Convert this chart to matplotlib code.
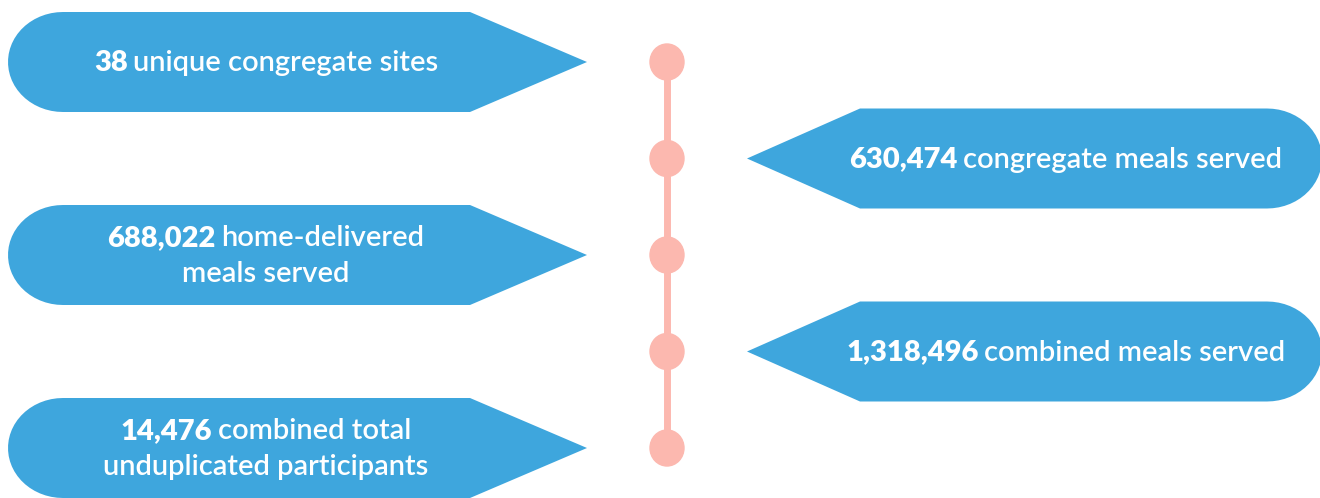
import matplotlib
matplotlib.use("Agg")
import matplotlib.pyplot as plt
from matplotlib.path import Path
from matplotlib.patches import PathPatch, Ellipse
from matplotlib.offsetbox import TextArea, HPacker, VPacker, AnnotationBbox
import numpy as np

# ---- data ----
numbers = ["38", "630,474", "688,022", "1,318,496", "14,476"]
line1_rest = ["unique congregate sites", "congregate meals served", "home-delivered",
              "combined meals served", "combined total"]
line2 = ["", "", "meals served", "", "unduplicated participants"]

BLUE = "#3EA6DD"
PINK = "#FCB8AF"
W, H = 1320, 498

fig = plt.figure(figsize=(W / 100, H / 100), dpi=100)
ax = fig.add_axes([0, 0, 1, 1])
ax.set_xlim(0, W)
ax.set_ylim(H, 0)
ax.axis("off")

y0, dy = 62, 96.5
half_h = 50
rx = 55
line_x = 667


def ellipse_arc(cx, cy, a, b, t0, t1, n=30):
    t = np.linspace(t0, t1, n)
    return list(zip(cx + a * np.cos(t), cy + b * np.sin(t)))


def left_shape(yc):
    top, bot = yc - half_h, yc + half_h
    x_left, x_rect, x_tip = 8, 470, 587
    pts = [(x_left + rx, top), (x_rect, top), (x_tip, yc), (x_rect, bot), (x_left + rx, bot)]
    pts += ellipse_arc(x_left + rx, yc, rx, half_h, np.pi / 2, 3 * np.pi / 2)
    return pts


def right_shape(yc):
    top, bot = yc - half_h, yc + half_h
    x_tip, x_rect, x_right = 747, 860, 1322
    pts = [(x_tip, yc), (x_rect, top), (x_right - rx, top)]
    pts += ellipse_arc(x_right - rx, yc, rx, half_h, -np.pi / 2, np.pi / 2)
    pts += [(x_rect, bot)]
    return pts


n = len(numbers)
ys = [y0 + i * dy for i in range(n)]

# timeline line
ax.plot([line_x, line_x], [ys[0], ys[-1]], color=PINK, lw=5, solid_capstyle="butt", zorder=1)
for y in ys:
    ax.add_patch(Ellipse((line_x, y), 34, 36, color=PINK, zorder=2))

for i, (num, rest, l2) in enumerate(zip(numbers, line1_rest, line2)):
    y = ys[i]
    left = (i % 2 == 0)
    pts = left_shape(y) if left else right_shape(y)
    verts = pts + [pts[0]]
    codes = [Path.MOVETO] + [Path.LINETO] * (len(pts) - 1) + [Path.CLOSEPOLY]
    ax.add_patch(PathPatch(Path(verts, codes), facecolor=BLUE, edgecolor="none", zorder=1))

    fs = 21
    ta_num = TextArea(num, textprops=dict(color="white", fontsize=fs, fontweight="heavy", family="Lato"))
    ta_rest = TextArea(rest, textprops=dict(color="white", fontsize=fs, fontweight="semibold", family="Lato"))
    row1 = HPacker(children=[ta_num, ta_rest], align="baseline", pad=0, sep=4)
    if l2:
        ta2 = TextArea(l2, textprops=dict(color="white", fontsize=fs, fontweight="semibold", family="Lato"))
        box = VPacker(children=[row1, ta2], align="center", pad=0, sep=6.5)
    else:
        box = row1
    cx = 266 if left else 1066
    ab = AnnotationBbox(box, (cx, y + 1), xycoords="data", frameon=False,
                        box_alignment=(0.5, 0.5), pad=0, zorder=3)
    ax.add_artist(ab)

fig.savefig("out.png", dpi=100)
